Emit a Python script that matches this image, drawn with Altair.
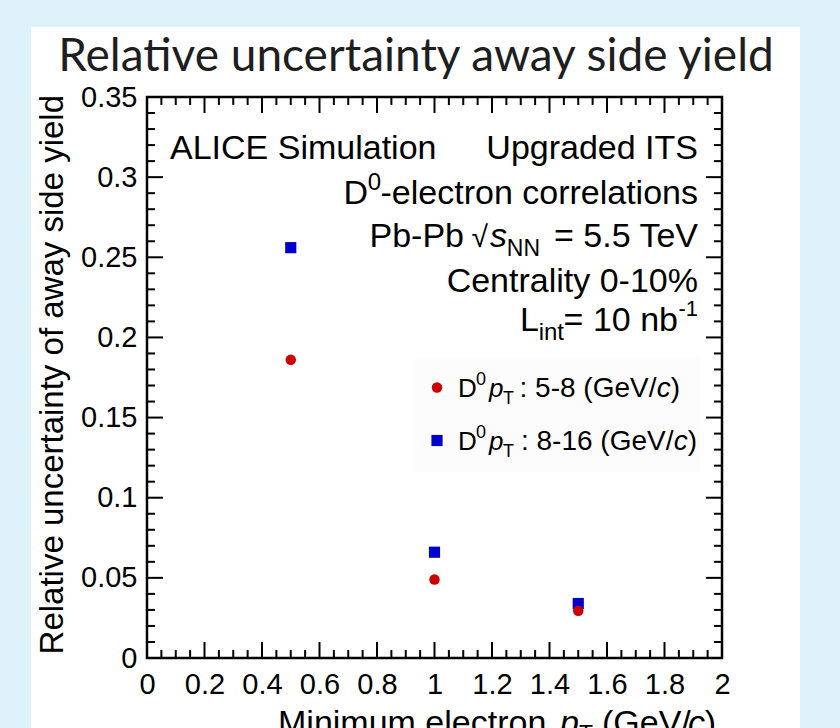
import altair as alt
import pandas as pd

# Minimum electron pT thresholds (GeV/c) and relative uncertainties per D0 pT bin
min_pt = [0.5, 1.0, 1.5]
unc_pt_5_8 = [0.186, 0.049, 0.0295]
unc_pt_8_16 = [0.256, 0.066, 0.034]

# Axis tick positions
x_major = [0, 0.2, 0.4, 0.6, 0.8, 1.0, 1.2, 1.4, 1.6, 1.8, 2.0]
x_minor = [round(i * 0.05, 2) for i in range(41) if i % 4]
y_major = [0, 0.05, 0.1, 0.15, 0.2, 0.25, 0.3, 0.35]
y_minor = [round(i * 0.01, 2) for i in range(36) if i % 5]

# Plot-area placement on the 840x728 canvas
X0, Y0, W, H = 147, 97, 575, 561
FONT = "Liberation Sans"

xs = alt.Scale(domain=[0, 2], nice=False, zero=False)
ys = alt.Scale(domain=[0, 0.35], nice=False)

xaxis = alt.Axis(values=x_major, format="~g", domain=False, ticks=False, grid=False,
                 labelFont=FONT, labelFontSize=29, labelColor="black", labelPadding=12,
                 labelFlush=False, labelOverlap=False, zindex=1)
yaxis = alt.Axis(values=y_major, format="~g", domain=False, ticks=False, grid=False,
                 labelFont=FONT, labelFontSize=29, labelColor="black", labelPadding=10,
                 labelFlush=False, labelOverlap=False, zindex=1)

one = pd.DataFrame({"k": [0]})


def txt(s, x, y, size=34, align="left", italic=False, font=FONT, color="black", angle=0):
    kw = dict(text=s, align=align, baseline="alphabetic", fontSize=size, font=font,
              color=color, fontStyle="italic" if italic else "normal")
    if angle:
        kw["angle"] = angle
    return alt.Chart(one).mark_text(**kw).encode(x=alt.value(x - X0), y=alt.value(y - Y0))


def box(x1, y1, x2, y2, fill, stroke=None, sw=0):
    kw = dict(fill=fill)
    if stroke:
        kw.update(stroke=stroke, strokeWidth=sw, fillOpacity=0)
    return alt.Chart(one).mark_rect(**kw).encode(
        x=alt.value(x1 - X0), x2=alt.value(x2 - X0), y=alt.value(y1 - Y0), y2=alt.value(y2 - Y0))


# white panel behind the figure
panel = box(31, 27, 800, 740, "white")
legend_bg = box(415, 357, 700, 472, "#fcfcfc")

df_a = pd.DataFrame({"pt": min_pt, "unc": unc_pt_8_16})
df_b = pd.DataFrame({"pt": min_pt, "unc": unc_pt_5_8})

blue = alt.Chart(df_a).mark_point(shape="square", filled=True, size=125, color="#0000cc", opacity=1).encode(
    x=alt.X("pt:Q", scale=xs, axis=xaxis, title=None),
    y=alt.Y("unc:Q", scale=ys, axis=yaxis, title=None),
)
red = alt.Chart(df_b).mark_point(shape="circle", filled=True, size=110, color="#cc0000", opacity=1).encode(
    x=alt.X("pt:Q", scale=xs, axis=xaxis, title=None),
    y=alt.Y("unc:Q", scale=ys, axis=yaxis, title=None),
)


def xticks(vals, length, top):
    d = pd.DataFrame({"v": vals})
    y1, y2 = (0, length) if top else (H, H - length)
    return alt.Chart(d).mark_rule(color="black", strokeWidth=2).encode(
        x=alt.X("v:Q", scale=xs, axis=xaxis, title=None), y=alt.value(y1), y2=alt.value(y2))


def yticks(vals, length, right):
    d = pd.DataFrame({"v": vals})
    x1, x2 = (W, W - length) if right else (0, length)
    return alt.Chart(d).mark_rule(color="black", strokeWidth=2).encode(
        y=alt.Y("v:Q", scale=ys, axis=yaxis, title=None), x=alt.value(x1), x2=alt.value(x2))


ticks = [
    xticks(x_major, 16, False), xticks(x_minor, 8, False),
    xticks(x_major, 16, True), xticks(x_minor, 8, True),
    yticks(y_major, 16, False), yticks(y_minor, 8, False),
    yticks(y_major, 16, True), yticks(y_minor, 8, True),
]

frame = box(X0, Y0, X0 + W, Y0 + H, "white", stroke="black", sw=2.5)

texts = [
    # title
    txt("Relative uncertainty away side yield", 416, 71, size=46, align="center", font="Lato", color="#1e1e1e"),
    # y axis title
    txt("Relative uncertainty of away side yield", 63, 95, size=33, align="right", angle=270),
    # x axis title
    txt("Minimum electron ", 278, 734, size=34),
    txt("p", 560, 734, size=34, italic=True),
    txt("T", 579, 742, size=23),
    txt("(GeV/", 602, 734, size=34),
    txt("c", 688, 734, size=34, italic=True),
    txt(")", 716, 734, size=34, align="right"),
    # annotations
    txt("ALICE Simulation", 170, 159),
    txt("Upgraded ITS", 698, 159, align="right"),
    txt("-electron correlations", 698, 204, align="right"),
    txt("0", 381, 190, size=24, align="right"),
    txt("D", 368, 204, align="right"),
    txt(" = 5.5 TeV", 698, 247, align="right"),
    txt("NN", 540, 256, size=23, align="right"),
    txt("s", 507, 247, align="right", italic=True),
    txt("\u221a", 488, 247, size=30, align="right"),
    txt("Pb-Pb", 464, 247, align="right"),
    txt("Centrality 0-10%", 698, 292, align="right"),
    txt("-1", 698, 316, size=22, align="right"),
    txt("= 10 nb", 678, 331, align="right"),
    txt("int", 564, 340, size=24, align="right"),
    txt("L", 539, 331, align="right"),
]

# legend entries
leg_rows = [("5-8", 397, "circle", "#cc0000", 680), ("8-16", 450, "square", "#0000cc", 697)]
legend = []
for lab, base, shape, col, xr in leg_rows:
    legend.append(alt.Chart(one).mark_point(shape=shape, filled=True, opacity=1, color=col,
                                            size=110 if shape == "circle" else 125).encode(
        x=alt.value(437 - X0), y=alt.value(base - 9.5 - Y0)))
    legend += [
        txt("D", 458, base, size=26),
        txt("0", 476, base - 12, size=18),
        txt("p", 489, base, size=26, italic=True),
        txt("T", 503, base + 7, size=18),
        txt(")", xr, base, size=28, align="right"),
        txt("c", xr - 9.3, base, size=28, italic=True, align="right"),
        txt(": " + lab + " (GeV/", xr - 23.5, base, size=28, align="right"),
    ]

chart = alt.layer(panel, frame, legend_bg, *ticks, blue, red, *texts, *legend).properties(
    width=W, height=H,
    autosize=alt.AutoSizeParams(type="none"),
    padding={"left": X0, "top": Y0, "right": 840 - X0 - W, "bottom": 728 - Y0 - H},
    background="#dff1f9",
).configure_view(stroke=None)

chart.save("out.html", embed_options={"renderer": "svg", "actions": False})
